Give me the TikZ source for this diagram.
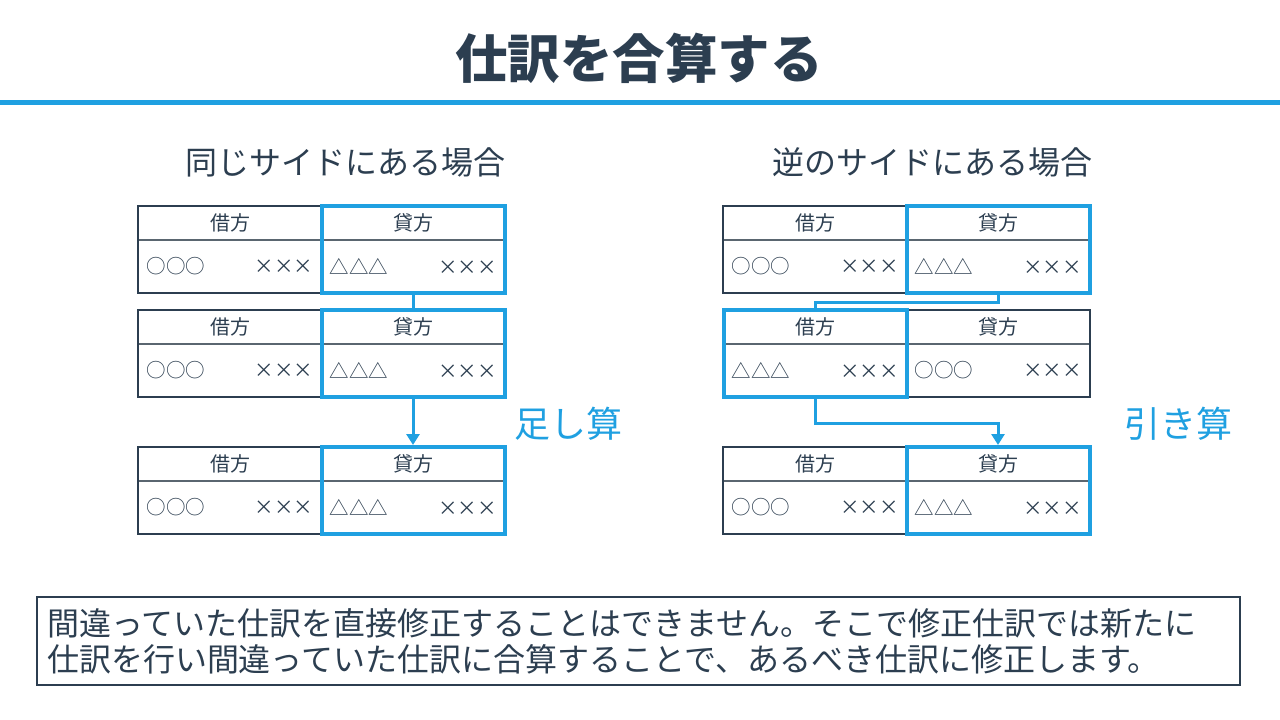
\documentclass[tikz,border=0pt]{standalone}
\usepackage{fontspec}
\setmainfont{Noto Sans CJK JP}
\usetikzlibrary{arrows.meta}
\definecolor{ink}{HTML}{2C3E50}
\definecolor{sepgray}{HTML}{5A6670}
\definecolor{accent}{HTML}{1FA0E1}
\begin{document}
\begin{tikzpicture}[x=1pt,y=-1pt,
  head/.style={minimum width=183pt,minimum height=34pt,inner sep=0pt,text=ink,
    font=\fontsize{20}{23}\selectfont},
  body/.style={minimum width=183pt,minimum height=53pt,inner sep=0pt,text width=167pt,
    text=ink,font=\fontsize{19.5}{23}\selectfont},
  frame/.style={draw=ink,line width=2pt},
  sep/.style={draw=sepgray,line width=1.6pt},
  pick/.style={draw=accent,line width=4pt,minimum width=183pt,minimum height=87pt,inner sep=0pt},
  link/.style={draw=accent,line width=3pt},
  heading/.style={text=ink,font=\fontsize{32}{36}\selectfont},
  calc/.style={text=accent,font=\fontsize{36}{40}\selectfont}]
 \useasboundingbox (0,0) rectangle (1280,720);

 %title and rule
 \node (title) [text=ink,font=\fontsize{52.5}{60}\selectfont\bfseries] at (639,58) {仕訳を合算する};
 \draw [accent,line width=5pt] (0,102) -- (1280,102);

 %section headings
 \node (headL) [heading] at (345,162) {同じサイドにある場合};
 \node (headR) [heading] at (932,162) {逆のサイドにある場合};

 %left tables: cells
 \node (L1dr) [head] at (230,223) {借方};
 \node (L1cr) [head] at (413,223) {貸方};
 \node (L1drv) [body] at (230,266.5) {○○○\hfill ×××};
 \node (L1crv) [body] at (413,266.5) {△△△\hfill ×××};

 \node (L2dr) [head] at (230,327) {借方};
 \node (L2cr) [head] at (413,327) {貸方};
 \node (L2drv) [body] at (230,370.5) {○○○\hfill ×××};
 \node (L2crv) [body] at (413,370.5) {△△△\hfill ×××};

 \node (L3dr) [head] at (230,464) {借方};
 \node (L3cr) [head] at (413,464) {貸方};
 \node (L3drv) [body] at (230,507.5) {○○○\hfill ×××};
 \node (L3crv) [body] at (413,507.5) {△△△\hfill ×××};

 %right tables: cells
 \node (R1dr) [head] at (815,223) {借方};
 \node (R1cr) [head] at (998,223) {貸方};
 \node (R1drv) [body] at (815,266.5) {○○○\hfill ×××};
 \node (R1crv) [body] at (998,266.5) {△△△\hfill ×××};

 \node (R2dr) [head] at (815,327) {借方};
 \node (R2cr) [head] at (998,327) {貸方};
 \node (R2drv) [body] at (815,370.5) {△△△\hfill ×××};
 \node (R2crv) [body] at (998,370.5) {○○○\hfill ×××};

 \node (R3dr) [head] at (815,464) {借方};
 \node (R3cr) [head] at (998,464) {貸方};
 \node (R3drv) [body] at (815,507.5) {○○○\hfill ×××};
 \node (R3crv) [body] at (998,507.5) {△△△\hfill ×××};

 %header separators
 \draw [sep] (L1drv.north west) -- (L1crv.north east);
 \draw [sep] (L2drv.north west) -- (L2crv.north east);
 \draw [sep] (L3drv.north west) -- (L3crv.north east);
 \draw [sep] (R1drv.north west) -- (R1crv.north east);
 \draw [sep] (R2drv.north west) -- (R2crv.north east);
 \draw [sep] (R3drv.north west) -- (R3crv.north east);

 %table frames
 \draw [frame] (L1dr.north west) rectangle (L1crv.south east);
 \draw [frame] (L1dr.north east) -- (L1drv.south east);
 \draw [frame] (L2dr.north west) rectangle (L2crv.south east);
 \draw [frame] (L2dr.north east) -- (L2drv.south east);
 \draw [frame] (L3dr.north west) rectangle (L3crv.south east);
 \draw [frame] (L3dr.north east) -- (L3drv.south east);
 \draw [frame] (R1dr.north west) rectangle (R1crv.south east);
 \draw [frame] (R1dr.north east) -- (R1drv.south east);
 \draw [frame] (R2dr.north west) rectangle (R2crv.south east);
 \draw [frame] (R2dr.north east) -- (R2drv.south east);
 \draw [frame] (R3dr.north west) rectangle (R3crv.south east);
 \draw [frame] (R3dr.north east) -- (R3drv.south east);

 %highlighted sides
 \node (L1box) [pick] at (413,249.5) {};
 \node (L2box) [pick] at (413,353.5) {};
 \node (L3box) [pick] at (413,490.5) {};
 \node (R1box) [pick] at (998,249.5) {};
 \node (R2box) [pick] at (815,353.5) {};
 \node (R3box) [pick] at (998,490.5) {};

 %connectors
 \draw [link] (L1box.south) -- (L2box.north);
 \draw [link,-{Triangle[width=13pt,length=11pt]}] (L2box.south) -- (L3box.north);
 \draw [link] (R1box.south) -- ++(0,7) -| (R2box.north);
 \draw [link,-{Triangle[width=13pt,length=11pt]}] (R2box.south) -- ++(0,24) -| (R3box.north);

 %operation labels
 \node (addL) [calc] at (568,424) {足し算};
 \node (subR) [calc] at (1178,424) {引き算};

 %note
 \node (note) [draw=ink,line width=2pt,minimum width=1203pt,minimum height=88pt,
   inner xsep=9pt,text width=1183pt,align=left,text=ink,
   font=\fontsize{32}{36}\selectfont] at (638.5,641)
   {間違っていた仕訳を直接修正することはできません。そこで修正仕訳では新たに\\
    仕訳を行い間違っていた仕訳に合算することで、あるべき仕訳に修正します。};
\end{tikzpicture}
\end{document}
